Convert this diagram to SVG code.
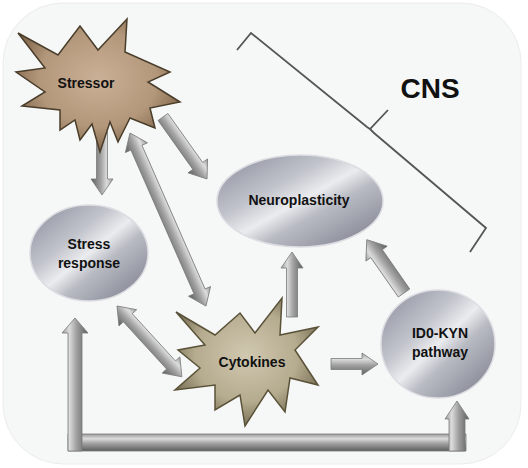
<svg xmlns="http://www.w3.org/2000/svg" width="528" height="468" viewBox="0 0 528 468">
<defs>
<linearGradient id="ag" x1="0" y1="0" x2="0" y2="1">
<stop offset="0" stop-color="#9a9a9a"/>
<stop offset="0.28" stop-color="#dcdcdc"/>
<stop offset="0.55" stop-color="#a2a2a2"/>
<stop offset="1" stop-color="#5e5e5e"/>
</linearGradient>
<linearGradient id="eg" x1="0" y1="0" x2="1" y2="1">
<stop offset="0" stop-color="#888c9a"/>
<stop offset="0.35" stop-color="#c2c4cc"/>
<stop offset="0.5" stop-color="#ebecef"/>
<stop offset="0.62" stop-color="#b9bbc3"/>
<stop offset="1" stop-color="#767a88"/>
</linearGradient>
<radialGradient id="sg1" cx="0.5" cy="0.45" r="0.6">
<stop offset="0" stop-color="#cab096"/>
<stop offset="0.6" stop-color="#b3977b"/>
<stop offset="1" stop-color="#745a40"/>
</radialGradient>
<radialGradient id="sg2" cx="0.5" cy="0.45" r="0.6">
<stop offset="0" stop-color="#d0c8b0"/>
<stop offset="0.6" stop-color="#b5ab8f"/>
<stop offset="1" stop-color="#6a6248"/>
</radialGradient>
</defs>
<style>
.arr{fill:url(#ag);stroke:#7a7a7a;stroke-width:0.8}
.ell{fill:url(#eg);stroke:#dcdde2;stroke-width:1.5}
.lbl{font-family:"Liberation Sans",Arial,sans-serif;font-weight:bold;font-size:14px;fill:#111;text-anchor:middle}
.star1{fill:url(#sg1);stroke:#4a3e2a;stroke-width:1.5;stroke-linejoin:miter}
.star2{fill:url(#sg2);stroke:#5a5238;stroke-width:1.5;stroke-linejoin:miter}
</style>
<rect x="3" y="3" width="518" height="461" rx="60" fill="#f6f7f7" stroke="#ececec" stroke-width="1"/>

<g id="connectors">
<path class="arr" transform="translate(102,132) rotate(90)" d="M0,-5.5 L47,-5.5 L47,-11 L63,0 L47,11 L47,5.5 L0,5.5 Z"/>
<path class="arr" transform="translate(163,117) rotate(54.6)" d="M0,-6 L60,-6 L60,-12 L76,0 L60,12 L60,6 L0,6 Z"/>
<path class="arr" transform="translate(130,133) rotate(66.3)" d="M0,0 L16,-12 L16,-6 L173,-6 L173,-12 L189,0 L173,12 L173,6 L16,6 L16,12 Z"/>
<path class="arr" transform="translate(117,306) rotate(47.5)" d="M0,0 L16,-12 L16,-6 L80,-6 L80,-12 L96,0 L80,12 L80,6 L16,6 L16,12 Z"/>
<path class="arr" transform="translate(292,317) rotate(-90)" d="M0,-5.5 L49,-5.5 L49,-11 L65,0 L49,11 L49,5.5 L0,5.5 Z"/>
<path class="arr" transform="translate(331,364) rotate(0)" d="M0,-5.5 L31,-5.5 L31,-11 L47,0 L31,11 L31,5.5 L0,5.5 Z"/>
<path class="arr" transform="translate(404,293) rotate(-124.9)" d="M0,-7 L48,-7 L48,-13 L65,0 L48,13 L48,7 L0,7 Z"/>
<path class="arr" d="M68,434 L466,434 L466,451 L68,451 Z"/>
<path class="arr" transform="translate(75,451) rotate(-90)" d="M0,-7 L118,-7 L118,-13 L133,0 L118,13 L118,7 L0,7 Z"/>
<path class="arr" transform="translate(457,451) rotate(-90)" d="M0,-8 L32,-8 L32,-12 L50,0 L32,12 L32,8 L0,8 Z"/>
<path d="M237,50 L251,33 L367,127 L370,129 L388,110 M370,129 L374,133 L486,228 L470,252" fill="none" stroke="#555" stroke-width="1.8" stroke-linejoin="miter"/>
</g>

<g id="stressor">
<polygon class="star1" points="18,33 58,55 80,26 98,50 127,19 125,52 170,72 148,82 180,102 150,108 155,128 130,118 118,142 110,122 100,152 92,124 80,140 75,120 60,130 60,110 22,106 45,92 16,72 45,68"/>
<text class="lbl" x="86" y="88">Stressor</text>
</g>

<g id="stress-response">
<ellipse class="ell" cx="89" cy="253" rx="59" ry="48"/>
<text class="lbl" x="89" y="249">Stress</text>
<text class="lbl" x="89" y="268">response</text>
</g>

<g id="neuroplasticity">
<ellipse class="ell" cx="300" cy="201" rx="83" ry="46"/>
<text class="lbl" x="299" y="205">Neuroplasticity</text>
</g>

<g id="ido-kyn">
<ellipse class="ell" cx="438" cy="344" rx="57" ry="54"/>
<text class="lbl" x="440" y="338">ID0-KYN</text>
<text class="lbl" x="440" y="357">pathway</text>
</g>

<g id="cytokines">
<polygon class="star2" points="176,312 215,335 240,313 255,333 282,298 280,335 318,327 295,350 318,385 290,378 285,412 268,390 245,426 240,395 215,410 215,385 175,390 200,368 178,350 205,345"/>
<text class="lbl" x="252" y="367">Cytokines</text>
</g>

<g id="cns">
<text x="430" y="98" font-family="Liberation Sans, Arial, sans-serif" font-weight="bold" font-size="28" fill="#111" text-anchor="middle">CNS</text>
</g>
</svg>
